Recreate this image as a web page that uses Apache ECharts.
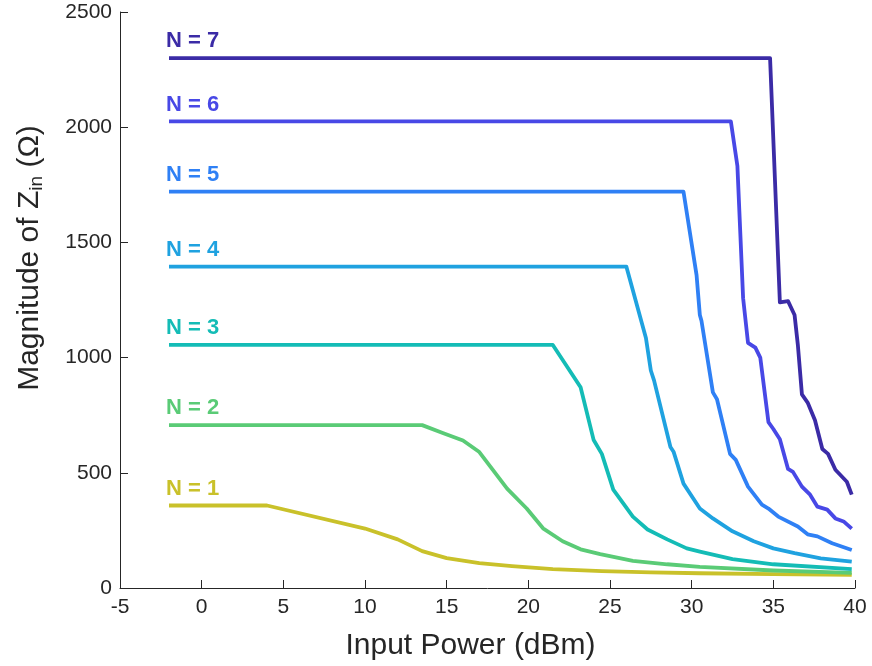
<!DOCTYPE html>
<html>
<head>
<meta charset="utf-8">
<script src="https://cdn.jsdelivr.net/npm/echarts@6/dist/echarts.min.js"></script>
<style>
  html, body { margin: 0; padding: 0; background: #fff; }
  #chart { width: 872px; height: 666px; }
</style>
</head>
<body>
<div id="chart"></div>
<script>
// Input power sweep (dBm) and input impedance magnitude (Ohm) for each stage count N
const powerN1 = [-2, 4, 10, 12, 13.5, 15, 17, 19, 21.5, 24.5, 27.5, 30.5, 35, 39.8];
const zinN1   = [358, 358, 258, 211, 160, 130, 108, 95, 82, 73, 68, 64, 60, 57];

const powerN2 = [-2, 13.5, 14.8, 16, 17, 18.7, 19.9, 20.9, 22.1, 23.2, 24.4, 26.4, 28.5, 30.5, 35, 39.8];
const zinN2   = [707, 707, 672, 640, 590, 431, 345, 259, 203, 168, 147, 118, 103, 92, 76, 66];

const powerN3 = [-2, 21.5, 23.2, 24, 24.5, 25.2, 26.4, 27.3, 28.5, 29.7, 30.5, 32.5, 35, 39.8];
const zinN3   = [1055, 1055, 871, 642, 582, 427, 310, 254, 211, 172, 158, 125, 103, 82];

const powerN4 = [-2, 26, 27.2, 27.5, 27.7, 28.7, 28.9, 29.5, 30.5, 31.3, 32.5, 33.8, 35, 36.3, 37.9, 39.8];
const zinN4   = [1395, 1395, 1085, 944, 900, 612, 590, 453, 345, 302, 246, 203, 172, 151, 129, 114];

const powerN5 = [-2, 29.5, 30.3, 30.5, 30.6, 31.3, 31.55, 32.35, 32.7, 33.45, 34.3, 34.7, 35.3, 36.5, 37.1, 37.7, 38.6, 39.8];
const zinN5   = [1720, 1720, 1358, 1185, 1160, 849, 819, 582, 556, 440, 362, 345, 310, 267, 233, 224, 194, 165];

const powerN6 = [-2, 32.4, 32.8, 33.15, 33.45, 33.9, 34.2, 34.7, 35.0, 35.4, 35.9, 36.2, 36.75, 37.25, 37.7, 38.3, 38.8, 39.3, 39.8];
const zinN6   = [2025, 2025, 1832, 1258, 1064, 1043, 1000, 720, 690, 646, 517, 504, 440, 405, 353, 340, 302, 289, 258];

const powerN7 = [-2, 34.8, 35.4, 35.9, 36.3, 36.5, 36.75, 37.1, 37.55, 38.0, 38.35, 38.8, 39.5, 39.8];
const zinN7   = [2300, 2300, 1240, 1245, 1185, 1056, 840, 805, 728, 603, 582, 513, 461, 405];

const stageNames  = ['N = 1', 'N = 2', 'N = 3', 'N = 4', 'N = 5', 'N = 6', 'N = 7'];
const stageColors = ['#c9c12a', '#5acb76', '#14bcb6', '#1fa2e0', '#2f80f5', '#4848e6', '#3b2ba6'];

const xTicks = { min: -5, max: 40, step: 5 };
const yTicks = { min: 0, max: 2500, step: 500 };

const powers = [powerN1, powerN2, powerN3, powerN4, powerN5, powerN6, powerN7];
const zins   = [zinN1, zinN2, zinN3, zinN4, zinN5, zinN6, zinN7];

const FONT = '"Liberation Sans", Arial, Helvetica, sans-serif';
const AXIS_COLOR = '#262626';

const series = powers.map((xs, i) => ({
  name: stageNames[i],
  type: 'line',
  data: xs.map((x, k) => [x, zins[i][k]]),
  showSymbol: false,
  symbol: 'none',
  lineStyle: { color: stageColors[i], width: 3.8, join: 'round' },
  itemStyle: { color: stageColors[i] },
  z: 2 + i,
  silent: true,
  markPoint: {
    symbol: 'circle',
    symbolSize: 0,
    silent: true,
    data: [{
      coord: [xs[0], zins[i][0]],
      label: {
        show: true,
        position: 'right',
        offset: [-8, -17],
        formatter: stageNames[i],
        color: stageColors[i],
        fontFamily: FONT,
        fontWeight: 'bold',
        fontSize: 22
      }
    }]
  }
}));

const chart = echarts.init(document.getElementById('chart'), null, { renderer: 'canvas' });
chart.setOption({
  animation: false,
  backgroundColor: '#ffffff',
  grid: { left: 120, right: 17, top: 12, bottom: 74, containLabel: false },
  xAxis: {
    type: 'value',
    min: xTicks.min,
    max: xTicks.max,
    interval: xTicks.step,
    name: 'Input Power (dBm)',
    nameLocation: 'middle',
    nameGap: 43,
    nameTextStyle: { fontFamily: FONT, fontSize: 30, color: AXIS_COLOR, padding: [0, 34, 0, 0] },
    axisLine: { onZero: false, lineStyle: { color: AXIS_COLOR, width: 1 } },
    axisTick: { inside: true, length: 8, lineStyle: { color: AXIS_COLOR } },
    axisLabel: { fontFamily: FONT, fontSize: 21, color: AXIS_COLOR, margin: 9, formatter: v => String(v) },
    splitLine: { show: false }
  },
  yAxis: {
    type: 'value',
    min: yTicks.min,
    max: yTicks.max,
    interval: yTicks.step,
    name: 'Magnitude of Z{sub|in} (Ω)',
    nameLocation: 'middle',
    nameGap: 74,
    nameTextStyle: {
      fontFamily: FONT, fontSize: 30, color: AXIS_COLOR, padding: [0, 0, 0, 84],
      rich: {
        sub: { fontFamily: FONT, fontSize: 19, color: AXIS_COLOR, padding: [13, 0, 0, 0] }
      }
    },
    axisLine: { show: true, onZero: false, lineStyle: { color: AXIS_COLOR, width: 1 } },
    axisTick: { show: true, inside: true, length: 8, lineStyle: { color: AXIS_COLOR } },
    axisLabel: { fontFamily: FONT, fontSize: 21, color: AXIS_COLOR, margin: 8, formatter: v => String(v) },
    splitLine: { show: false }
  },
  series: series
});
</script>
</body>
</html>
